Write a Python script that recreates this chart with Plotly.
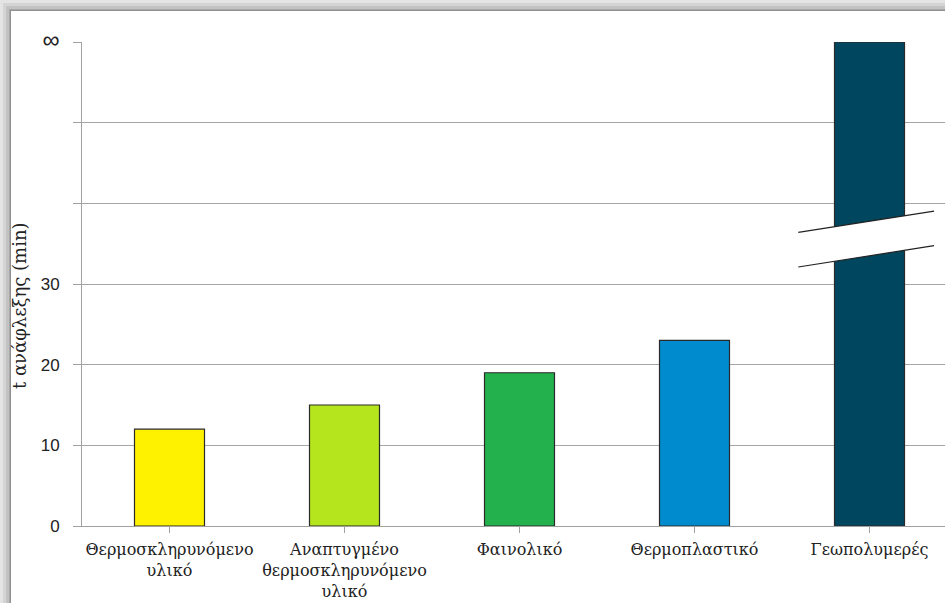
import plotly.graph_objects as go

categories = ["Θερμοσκληρυνόμενο<br>υλικό",
              "Αναπτυγμένο<br>θερμοσκληρυνόμενο<br>υλικό",
              "Φαινολικό", "Θερμοπλαστικό", "Γεωπολυμερές"]
values = [12, 15, 19, 23, 60]   # last bar = "∞" (top of axis)
colors = ["#FFF200", "#B5E51D", "#22B14C", "#008BCE", "#00465F"]
tick_vals = [0, 10, 20, 30, 40, 50, 60]
tick_text = ["0", "10", "20", "30", "", "",
             "<span style='font-size:24px'>∞</span>"]
y_title = "t ανάφλεξης (min)"

W, H = 945, 603
L, R, T, B = 82, 0, 42, 77
PW, PH = W - L - R, H - T - B

def px(x):
    return (x - L) / PW

def py(y):
    return (H - B - y) / PH

fig = go.Figure(go.Bar(
    x=list(range(len(categories))), y=values,
    marker=dict(color=colors, line=dict(color="#2a2a2a", width=1.2)),
    width=0.4, hoverinfo="skip",
))

shapes = []
# window-frame shadow (top and left)
bands = [(0, 3, "#e4e4e4"), (3, 6, "#d4d4d4"), (6, 9, "#c2c2c2"),
         (9, 10, "#a9a9a9"), (10, 11, "#8f8f8f")]
for a, b, c in bands:
    shapes.append(dict(type="rect", xref="paper", yref="paper",
                       x0=px(0), x1=px(W), y0=py(a), y1=py(b),
                       fillcolor=c, line=dict(width=0), layer="above"))
for a, b, c in bands:
    shapes.append(dict(type="rect", xref="paper", yref="paper",
                       x0=px(a), x1=px(b), y0=py(min(b, 11)), y1=py(H),
                       fillcolor=c, line=dict(width=0), layer="above"))

# axis break on the last bar
bx0, bx1 = 3.593, 4.369
lo0, lo1 = 32.11, 34.75
hi0, hi1 = 36.41, 39.03
shapes.append(dict(type="path", xref="x", yref="y",
                   path=f"M {bx0},{lo0} L {bx1},{lo1} L {bx1},{hi1} L {bx0},{hi0} Z",
                   fillcolor="white", line=dict(width=0), layer="above"))
for y0, y1 in [(lo0, lo1), (hi0, hi1)]:
    shapes.append(dict(type="line", xref="x", yref="y", x0=bx0, x1=bx1,
                       y0=y0, y1=y1, line=dict(color="#222", width=1.2),
                       layer="above"))

fig.update_layout(
    width=W, height=H,
    margin=dict(l=L, r=R, t=T, b=B),
    paper_bgcolor="white", plot_bgcolor="white",
    showlegend=False,
    shapes=shapes,
    xaxis=dict(
        range=[-0.5, -0.5 + PW / 175.0],
        tickmode="array", tickvals=list(range(len(categories))),
        ticktext=categories, tickson="boundaries",
        ticks="outside", ticklen=6, tickcolor="#a0a0a0",
        showline=True, linecolor="#a0a0a0", linewidth=1,
        showgrid=False, zeroline=False,
        tickfont=dict(family="DejaVu Serif", size=16, color="#222"),
        ticklabelstandoff=3,
    ),
    yaxis=dict(
        range=[0, 60], tickmode="array", tickvals=tick_vals, ticktext=tick_text,
        ticks="outside", ticklen=8, tickcolor="#a0a0a0",
        showline=True, linecolor="#a0a0a0", linewidth=1,
        showgrid=True, gridcolor="#a6a6a6", gridwidth=1, zeroline=False,
        tickfont=dict(family="Liberation Sans", size=17, color="#222"),
        ticklabelstandoff=10,
    ),
    annotations=[dict(
        text=y_title, textangle=-90, xref="paper", yref="paper",
        x=px(19), y=py(306), xanchor="center", yanchor="middle",
        showarrow=False, font=dict(family="DejaVu Serif", size=18, color="#222"),
    )],
)

fig.write_html("out.html")
